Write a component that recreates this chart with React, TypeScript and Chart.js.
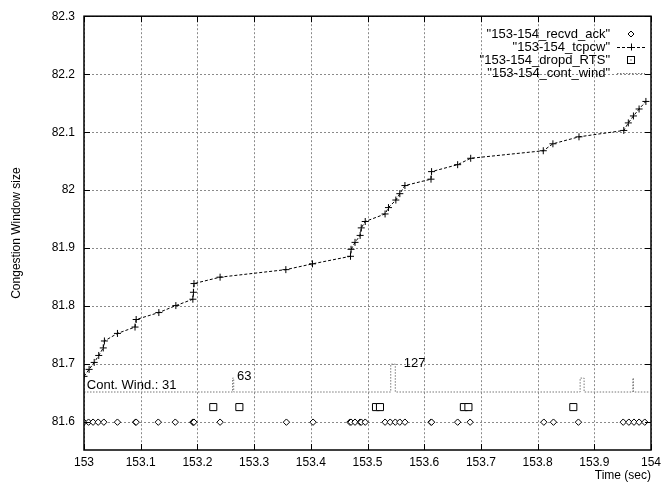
import { useEffect, useRef } from 'react';
import { Chart, registerables } from 'chart.js';

Chart.register(...registerables);

const X_TICKS = [153, 153.1, 153.2, 153.3, 153.4, 153.5, 153.6, 153.7, 153.8, 153.9, 154];
const Y_TICKS = [81.6, 81.7, 81.8, 81.9, 82.0, 82.1, 82.2, 82.3];

const TCP_TIMES = [153.000, 153.009, 153.018, 153.026, 153.034, 153.036, 153.059, 153.090, 153.092, 153.132,
  153.162, 153.192, 153.193, 153.194, 153.240, 153.356, 153.403, 153.470, 153.471, 153.478,
  153.487, 153.489, 153.496, 153.531, 153.537, 153.550, 153.557, 153.566, 153.612, 153.613,
  153.659, 153.682, 153.810, 153.827, 153.873, 153.952, 153.960, 153.969, 153.979, 153.991];
const TCP_CW = [81.679, 81.691, 81.703, 81.715, 81.728, 81.740, 81.753, 81.764, 81.777, 81.789,
  81.801, 81.812, 81.824, 81.839, 81.850, 81.863, 81.873, 81.886, 81.898, 81.910,
  81.922, 81.935, 81.946, 81.959, 81.970, 81.983, 81.994, 82.008, 82.019, 82.032,
  82.044, 82.055, 82.068, 82.080, 82.092, 82.103, 82.116, 82.128, 82.140, 82.153];

const ACK_TIMES = [153.000, 153.008, 153.016, 153.025, 153.035, 153.059, 153.091, 153.092, 153.131, 153.161,
  153.192, 153.193, 153.194, 153.240, 153.357, 153.404, 153.469, 153.471, 153.478, 153.487,
  153.489, 153.496, 153.531, 153.540, 153.549, 153.557, 153.566, 153.612, 153.613, 153.659,
  153.681, 153.811, 153.828, 153.872, 153.951, 153.961, 153.970, 153.979, 153.989];
const ACK_LEVEL = 81.6;

const DROP_TIMES = [153.228, 153.274, 153.515, 153.522, 153.670, 153.678, 153.863];
const DROP_LEVEL = 81.626;

const CONT_TIMES = [153.0, 153.262, 153.262, 153.264, 153.264, 153.541, 153.541, 153.549, 153.549,
  153.875, 153.875, 153.882, 153.882, 153.968, 153.968, 153.969, 153.969, 153.998];
const CONT_VALUES = [81.652, 81.652, 81.676, 81.676, 81.652, 81.652, 81.7, 81.7, 81.652,
  81.652, 81.676, 81.676, 81.652, 81.652, 81.676, 81.676, 81.652, 81.652];

const ANNOT_TEXT = ['Cont. Wind.: 31', '63', '127'];
const ANNOT_X = [153.005, 153.270, 153.564];
const ANNOT_Y = [81.6628, 81.679, 81.7015];

const LEGEND_LABELS = ['"153-154_recvd_ack"', '"153-154_tcpcw"', '"153-154_dropd_RTS"', '"153-154_cont_wind"'];

const FONT = '"Liberation Sans", Arial, Helvetica, sans-serif';

const fmt = (v: number) => {
  const r = Math.round(v * 10) / 10;
  return r % 1 === 0 ? String(r) : r.toFixed(1);
};

function drawGrid(chart: any) {
  const { ctx, chartArea: a, scales } = chart;
  const x = scales.x;
  const y = scales.y;
  ctx.save();
  ctx.lineWidth = 1;
  ctx.strokeStyle = '#8a8a8a';
  ctx.setLineDash([2, 2]);
  ctx.beginPath();
  for (const v of X_TICKS) {
    const px = Math.round(x.getPixelForValue(v)) + 0.5;
    ctx.moveTo(px, a.top);
    ctx.lineTo(px, a.bottom);
  }
  for (const v of Y_TICKS) {
    const py = Math.round(y.getPixelForValue(v)) + 0.5;
    ctx.moveTo(a.left, py);
    ctx.lineTo(a.right, py);
  }
  ctx.stroke();
  ctx.restore();
}

const decorPlugin = {
  id: 'decor',
  beforeDatasetsDraw(chart: any) {
    drawGrid(chart);
  },
  afterDatasetsDraw(chart: any) {
    const { ctx, chartArea: a, scales } = chart;
    const x = scales.x;
    const y = scales.y;
    ctx.save();
    ctx.setLineDash([]);
    ctx.strokeStyle = '#000';
    ctx.lineWidth = 1.5;
    ctx.strokeRect(a.left, a.top, a.right - a.left, a.bottom - a.top);
    ctx.lineWidth = 1;
    ctx.beginPath();
    for (const v of X_TICKS) {
      const px = Math.round(x.getPixelForValue(v)) + 0.5;
      ctx.moveTo(px, a.bottom); ctx.lineTo(px, a.bottom - 6);
      ctx.moveTo(px, a.top); ctx.lineTo(px, a.top + 6);
    }
    for (const v of Y_TICKS) {
      const py = Math.round(y.getPixelForValue(v)) + 0.5;
      ctx.moveTo(a.left, py); ctx.lineTo(a.left + 6, py);
      ctx.moveTo(a.right, py); ctx.lineTo(a.right - 6, py);
    }
    ctx.stroke();

    ctx.font = '13px ' + FONT;
    ctx.fillStyle = '#000';
    ctx.textBaseline = 'middle';
    ctx.textAlign = 'left';
    ANNOT_TEXT.forEach((t, i) => {
      ctx.fillText(t, x.getPixelForValue(ANNOT_X[i]), y.getPixelForValue(ANNOT_Y[i]));
    });

    const textRight = 610;
    const sx0 = 617, sx1 = 645, sc = 631;
    const rows = [34, 47, 60, 73];
    ctx.textAlign = 'right';
    LEGEND_LABELS.forEach((t, i) => {
      ctx.fillStyle = '#000';
      ctx.fillText(t, textRight, rows[i]);
      const ry = rows[i];
      ctx.lineWidth = 1;
      if (i === 0) {
        ctx.setLineDash([]);
        ctx.beginPath();
        ctx.moveTo(sc, ry - 3); ctx.lineTo(sc + 3, ry); ctx.lineTo(sc, ry + 3); ctx.lineTo(sc - 3, ry); ctx.closePath();
        ctx.fillStyle = '#fff'; ctx.fill(); ctx.strokeStyle = '#000'; ctx.stroke();
      } else if (i === 1) {
        ctx.strokeStyle = '#000';
        ctx.setLineDash([3, 2]);
        ctx.beginPath(); ctx.moveTo(sx0, ry + 0.5); ctx.lineTo(sx1, ry + 0.5); ctx.stroke();
        ctx.setLineDash([]);
        ctx.beginPath();
        ctx.moveTo(sc - 3.5, ry + 0.5); ctx.lineTo(sc + 3.5, ry + 0.5);
        ctx.moveTo(sc + 0.5, ry - 3.5); ctx.lineTo(sc + 0.5, ry + 3.5);
        ctx.stroke();
      } else if (i === 2) {
        ctx.setLineDash([]);
        ctx.fillStyle = '#fff';
        ctx.fillRect(sc - 3.5, ry - 3.5, 7, 7);
        ctx.strokeStyle = '#000';
        ctx.strokeRect(sc - 3.5, ry - 3.5, 7, 7);
        ctx.fillStyle = '#000';
        ctx.fillRect(sc - 0.5, ry - 0.5, 1, 1);
      } else {
        ctx.strokeStyle = '#777';
        ctx.setLineDash([1.5, 1.5]);
        ctx.beginPath(); ctx.moveTo(sx0, ry + 0.5); ctx.lineTo(sx1, ry + 0.5); ctx.stroke();
      }
    });
    ctx.restore();
  },
};

export default function App() {
  const ref = useRef<HTMLCanvasElement | null>(null);

  useEffect(() => {
    if (!ref.current) return;
    const font = { family: FONT, size: 12 };
    const chart = new Chart(ref.current, {
      type: 'scatter',
      data: {
        datasets: [
          {
            label: 'cont_wind',
            data: CONT_TIMES.map((t, i) => ({ x: t, y: CONT_VALUES[i] })),
            showLine: true,
            borderColor: '#777',
            borderWidth: 1,
            borderDash: [1.5, 1.5],
            pointRadius: 0,
            tension: 0,
          },
          {
            label: 'tcpcw',
            data: TCP_TIMES.map((t, i) => ({ x: t, y: TCP_CW[i] })),
            showLine: true,
            borderColor: '#000',
            borderWidth: 1,
            borderDash: [3, 2],
            pointStyle: 'cross',
            pointRadius: 3.5,
            pointBorderWidth: 1,
            pointBorderColor: '#000',
            tension: 0,
          },
          {
            label: 'recvd_ack',
            data: ACK_TIMES.map((t) => ({ x: t, y: ACK_LEVEL })),
            showLine: false,
            pointStyle: 'rectRot',
            pointRadius: 3.2,
            pointBorderWidth: 1,
            pointBorderColor: '#000',
            pointBackgroundColor: '#fff',
          },
          {
            label: 'dropd_RTS',
            data: DROP_TIMES.map((t) => ({ x: t, y: DROP_LEVEL })),
            showLine: false,
            pointStyle: 'rect',
            pointRadius: 5,
            pointBorderWidth: 1,
            pointBorderColor: '#000',
            pointBackgroundColor: '#fff',
          },
          {
            label: 'dropd_RTS_dot',
            data: DROP_TIMES.map((t) => ({ x: t, y: DROP_LEVEL })),
            showLine: false,
            pointStyle: 'circle',
            pointRadius: 0.7,
            pointBorderWidth: 0,
            pointBackgroundColor: '#000',
          },
        ],
      },
      options: {
        responsive: false,
        animation: false,
        layout: { padding: { top: 15, right: 16, bottom: 0, left: 0 } },
        plugins: { legend: { display: false }, tooltip: { enabled: false } },
        scales: {
          x: {
            type: 'linear',
            min: 153,
            max: 154,
            afterBuildTicks: (s: any) => { s.ticks = X_TICKS.map((v) => ({ value: v })); },
            afterFit: (s: any) => { s.height = 33; },
            ticks: { font, color: '#000', padding: 5, maxRotation: 0, autoSkip: false, callback: (v: any) => fmt(Number(v)) },
            grid: { display: false, drawTicks: false },
            border: { display: false },
            title: { display: true, text: 'Time (sec)', align: 'end', font, color: '#000', padding: { top: 0, bottom: 0 } },
          },
          y: {
            type: 'linear',
            min: 81.552,
            max: 82.3,
            afterBuildTicks: (s: any) => { s.ticks = Y_TICKS.map((v) => ({ value: v })); },
            afterFit: (s: any) => { s.width = 84; },
            ticks: { font, color: '#000', padding: 9, autoSkip: false, callback: (v: any) => fmt(Number(v)) },
            grid: { display: false, drawTicks: false },
            border: { display: false },
            title: { display: true, text: 'Congestion Window size', font, color: '#000', padding: { top: 9, bottom: 0 } },
          },
        },
      },
      plugins: [decorPlugin],
    } as any);
    return () => chart.destroy();
  }, []);

  return (
    <div style={{ position: 'absolute', left: 0, top: 0, width: 667, height: 483, background: '#fff' }}>
      <canvas ref={ref} width={667} height={483} style={{ width: 667, height: 483, display: 'block' }} />
    </div>
  );
}
